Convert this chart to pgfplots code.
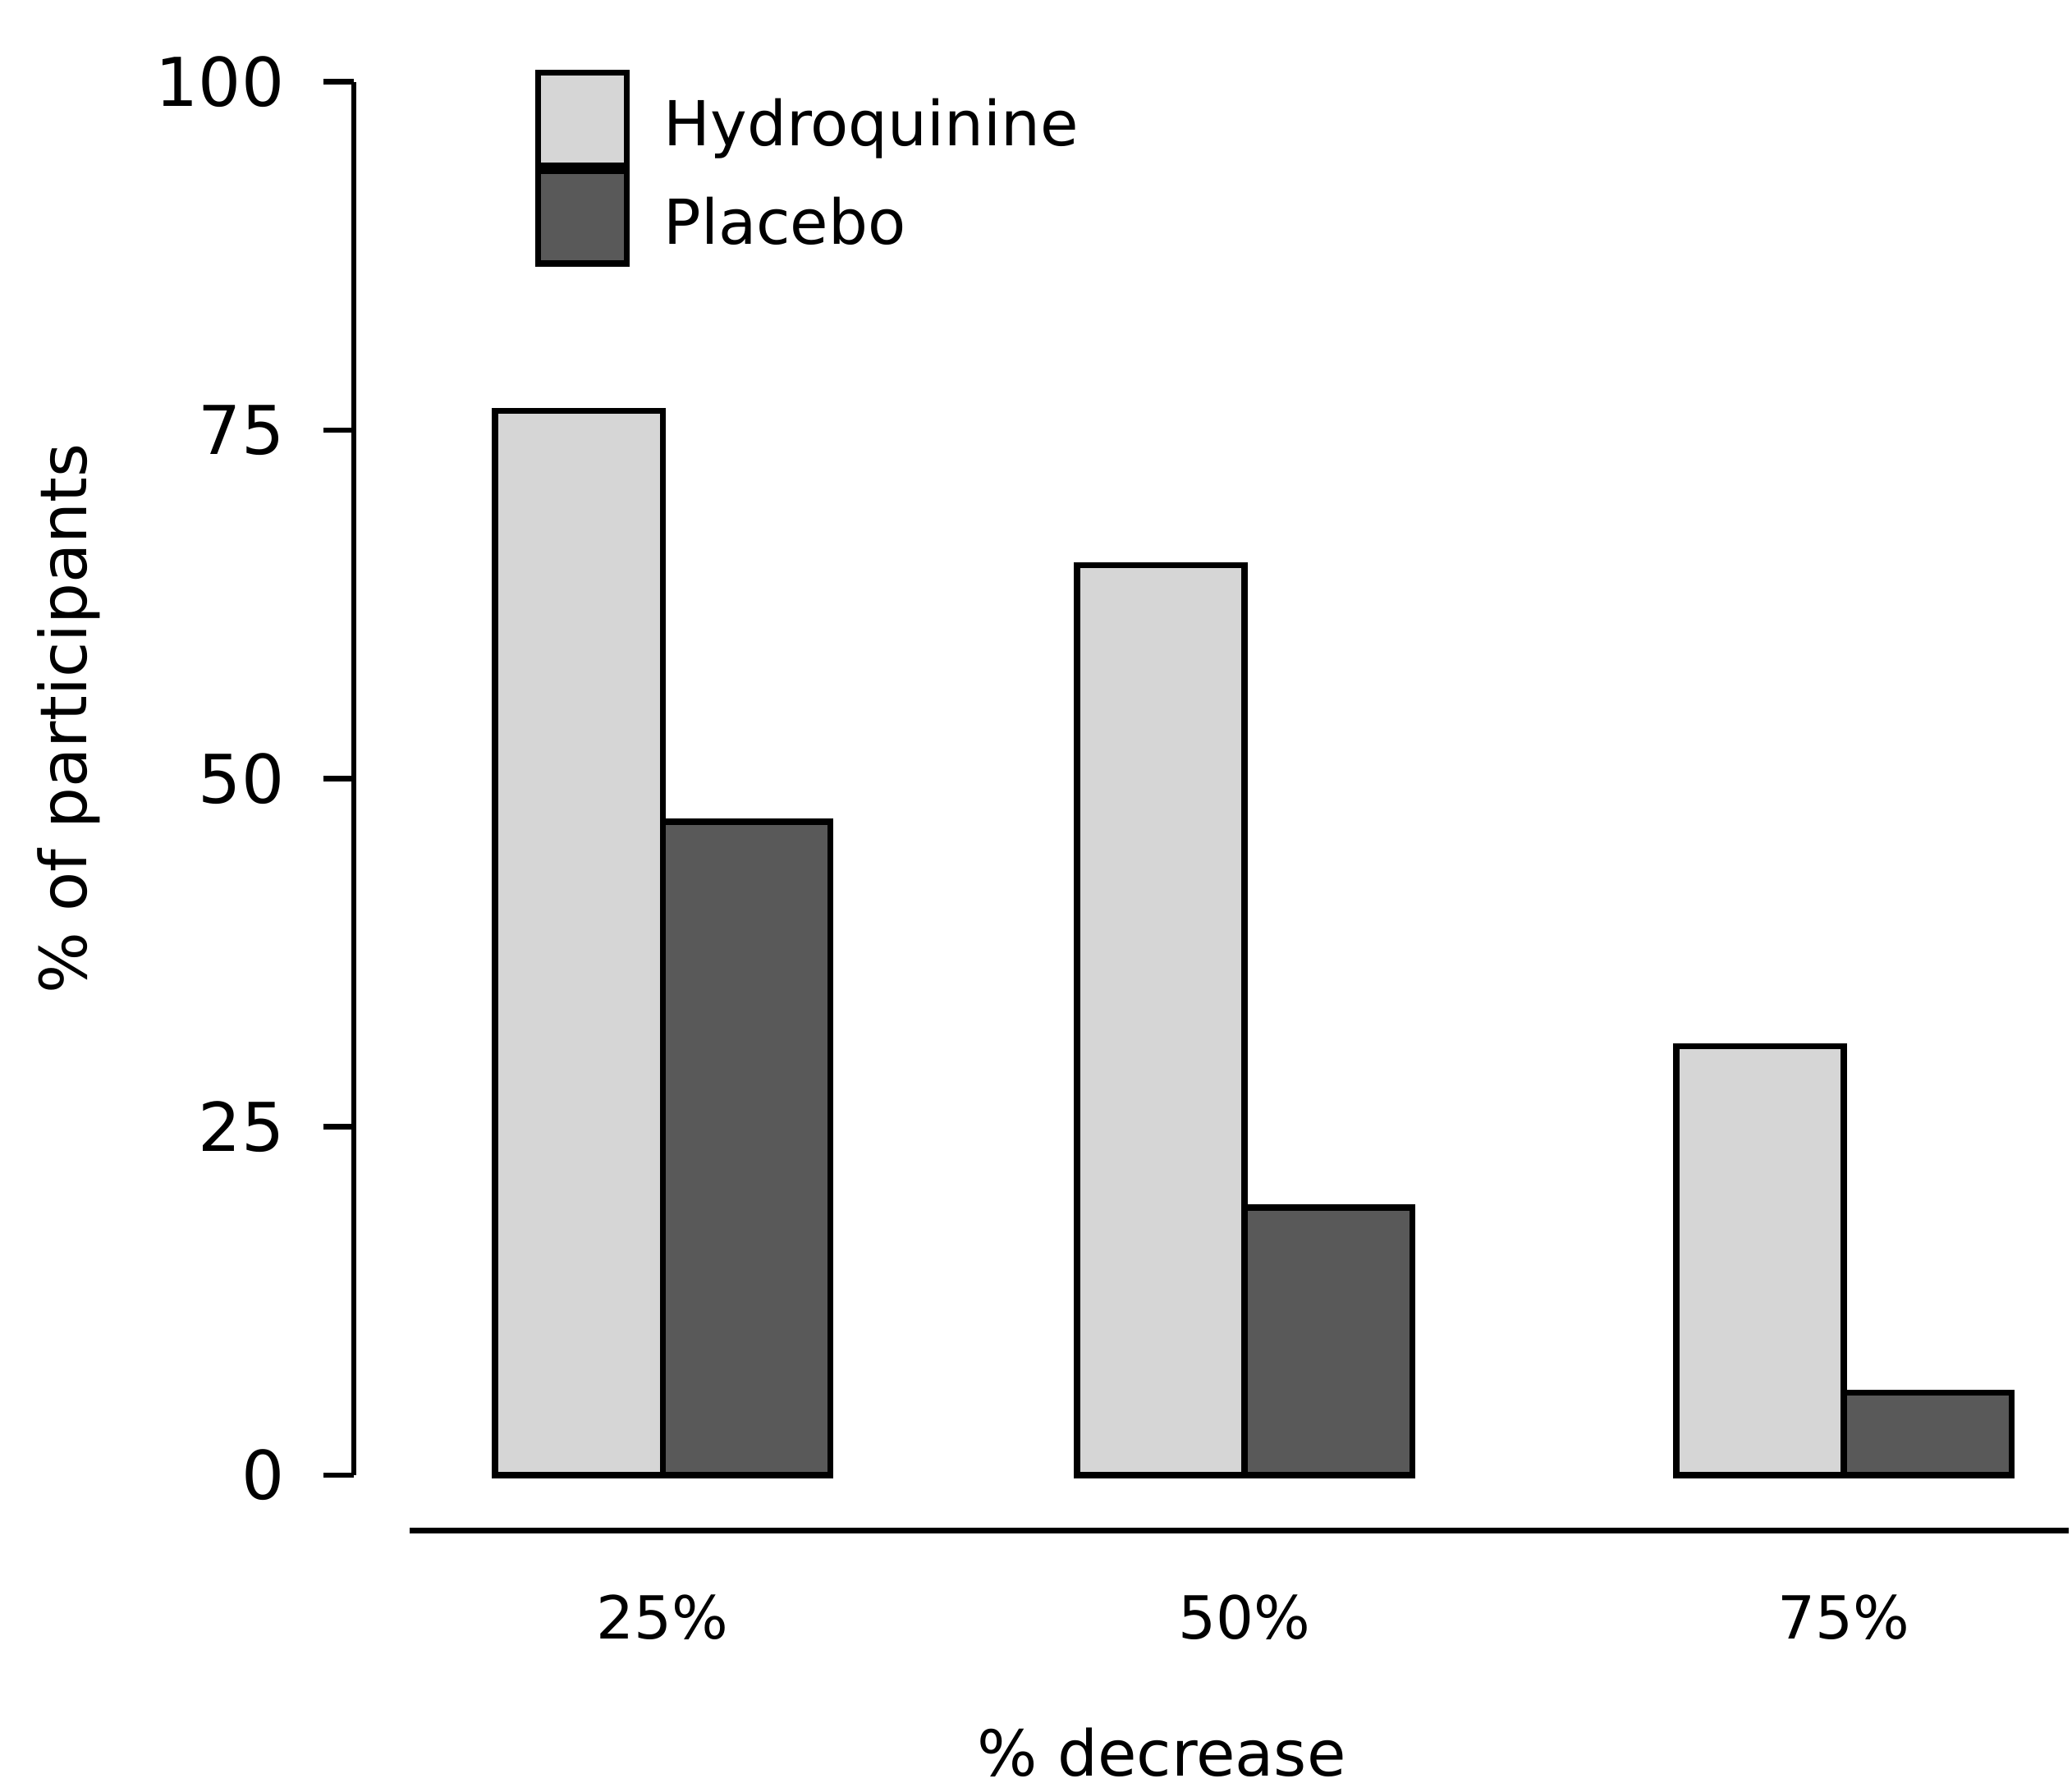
\documentclass[border=0pt]{standalone}
\usepackage{fontspec}
\setmainfont{DejaVu Sans}
\usepackage{pgfplots}
\pgfplotsset{compat=1.18}
\definecolor{lightbar}{gray}{0.84}
\definecolor{darkbar}{gray}{0.35}
\pgfplotsset{boxlegend/.style={legend image code/.code={\draw[##1] (0pt,-5.8pt) rectangle (13.4pt,8.2pt); \path (18.6pt,0pt);}}}
\begin{document}
\begin{tikzpicture}[font=\fontsize{9.4}{11.5}\selectfont]
\begin{axis}[
  scale only axis, width=260pt, height=211.2pt,
  xmin=0.469, xmax=3.417, ymin=0, ymax=100,
  axis x line=bottom, axis y line=left,
  x axis line style={draw=none},
  y axis line style={-, line width=0.8pt},
  ytick={0,25,50,75,100},
  tick align=outside,
  major tick length=4.6pt,
  ytick style={line width=0.8pt, black},
  xtick={1,2,3.03}, xticklabels={25\%,50\%,75\%},
  xtick style={draw=none},
  x tick label style={yshift=-10pt, font=\fontsize{9}{11}\selectfont},
  y tick label style={xshift=-2.4pt, font=\fontsize{10.2}{12}\selectfont},
  /pgf/number format/assume math mode=true,
  ybar=0pt, bar width=25.4pt,
  clip=false,
  ylabel={\% of participants},
  ylabel style={at={(axis description cs:-0.166,0.543)}, anchor=center, inner sep=0pt, font=\fontsize{9.8}{11.5}\selectfont},
  xlabel={\% decrease},
  xlabel style={at={(axis description cs:0.471,-0.199)}, anchor=center, inner sep=0pt, font=\fontsize{9.6}{11.5}\selectfont},
  legend style={at={(axis description cs:0.105,1.0095)}, anchor=north west,
    draw=none, fill=none, inner sep=0pt, row sep=0pt,
    nodes={inner sep=0pt}, font=\fontsize{9.4}{11.5}\selectfont},
  legend cell align=left,
]
\addplot[draw=black, line width=0.9pt, fill=lightbar, boxlegend]
  coordinates {(1,76.4) (2,65.3) (3.03,30.8)};
\addplot[draw=black, line width=0.9pt, fill=darkbar, boxlegend]
  coordinates {(1,46.9) (2,19.2) (3.03,5.9)};
\legend{Hydroquinine, Placebo}
\draw[line width=0.9pt] (axis cs:0.565,-3.98) -- (axis cs:3.417,-3.98);
\path (axis description cs:-0.2062,-0.2206) rectangle (axis description cs:1,1.0587);
\end{axis}
\end{tikzpicture}
\end{document}
